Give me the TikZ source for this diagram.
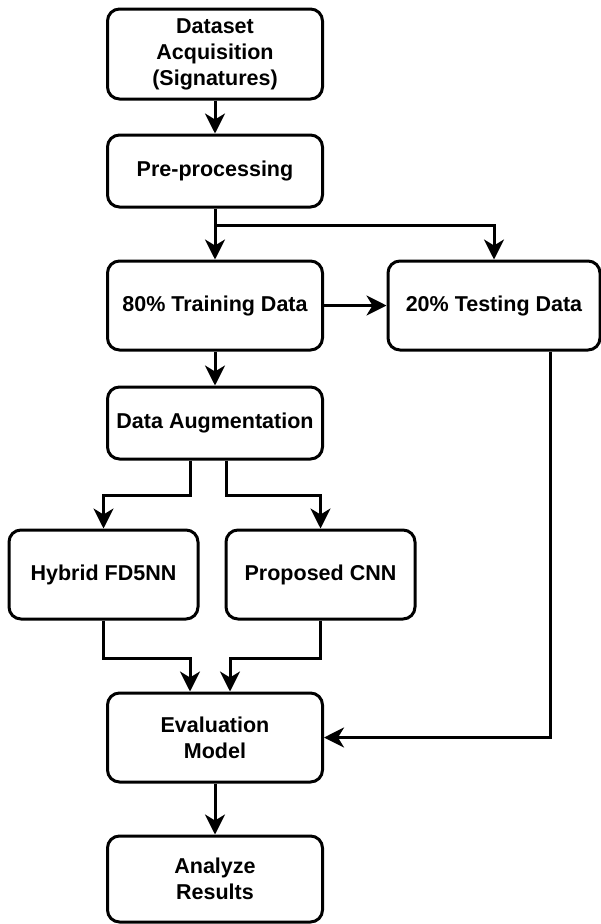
\documentclass[tikz,border=0pt]{standalone}
\usepackage{fontspec}
\setmainfont{Liberation Sans}
\usetikzlibrary{shapes,arrows.meta}
\tikzstyle{block} = [rectangle, draw, line width=3pt, rounded corners=12pt, align=center, inner sep=0pt, minimum width=215pt, minimum height=89pt, font=\fontsize{21.5}{26}\selectfont\bfseries]
\tikzstyle{line} = [draw, line width=3pt, -{Stealth[length=20pt, width=20pt, inset=6pt]}]

\begin{document}
\begin{tikzpicture}[x=1pt, y=-1pt]
\useasboundingbox (0, 0) rectangle (601, 924);

% main column
\node [block, minimum height=90pt] at (215, 54) (acq) {Dataset\\Acquisition\\(Signatures)};
\node [block, minimum height=72pt] at (215, 171) (pre) {Pre-processing};
\node [block] at (215, 305.5) (train) {80\% Training Data};
\node [block, minimum width=212pt] at (494, 305.5) (test) {20\% Testing Data};
\node [block, minimum height=72pt] at (215, 423) (aug) {Data Augmentation};
\path [line] (acq.south) to (pre.north);
\coordinate (split) at (215, 225);
\path [line] (pre.south) to (train.north);
\path [line] (split) -| (test.north);
\path [line] (train.east) to (test.west);
\path [line] (train.south) to (aug.north);

% models
\node [block, minimum width=189pt] at (103.5, 574.5) (hyb) {Hybrid FD5NN};
\node [block, minimum width=189pt] at (320.5, 574.5) (cnn) {Proposed CNN};
\path [line] ([xshift=-25pt]aug.south) -- ++(0, 35) -| (hyb.north);
\path [line] ([xshift=11pt]aug.south) -- ++(0, 35) -| (cnn.north);

% evaluation
\node [block] at (215, 737.5) (eval) {Evaluation\\Model};
\node [block, minimum height=86pt] at (215, 879) (res) {Analyze\\Results};
\path [line] (hyb.south) -- ++(0, 38) -| ([xshift=-25pt]eval.north);
\path [line] (cnn.south) -- ++(0, 38) -| ([xshift=15pt]eval.north);
\path [line] ([xshift=56pt]test.south) |- (eval.east);
\path [line] (eval.south) to (res.north);

\end{tikzpicture}
\end{document}
